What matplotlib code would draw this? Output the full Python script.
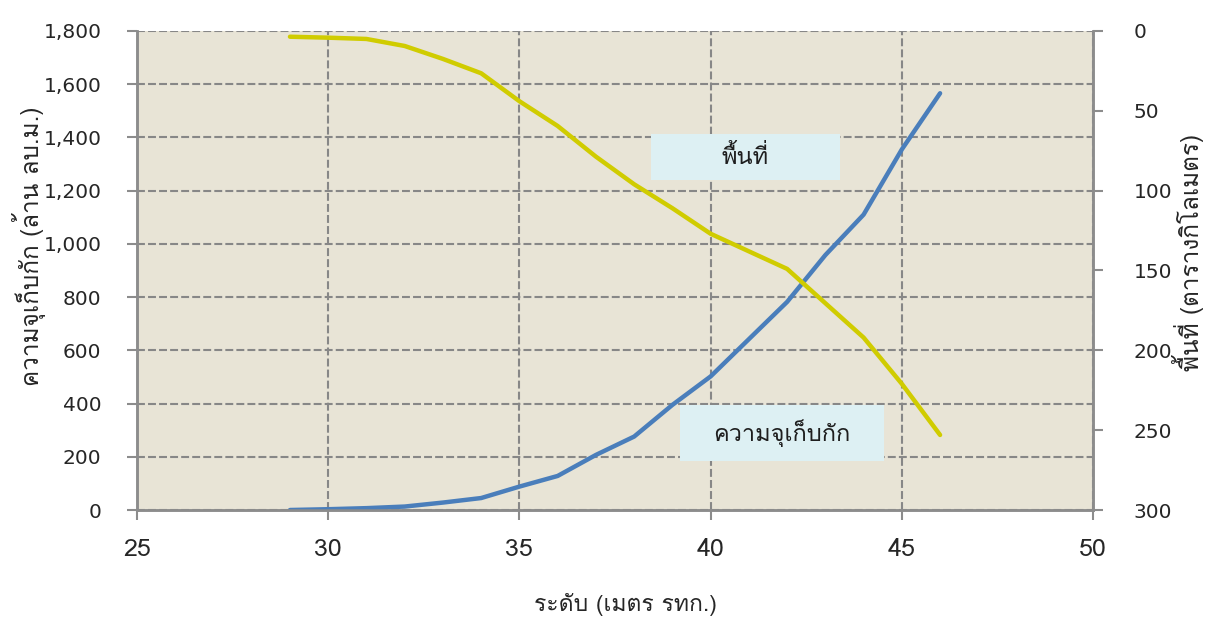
import numpy as np
import matplotlib
matplotlib.use("Agg")
import matplotlib.pyplot as plt
from matplotlib.patches import Rectangle

# ระดับน้ำ (เมตร รทก.)
level = [29, 30, 31, 32, 33, 34, 35, 36, 37, 38, 39, 40, 41, 42, 43, 44, 45, 46]
# ความจุเก็บกัก (ล้าน ลบ.ม.)
storage = [0, 3, 7, 13, 28, 45, 88, 128, 207, 276, 395, 502, 642, 782, 958, 1110, 1355, 1566]
# พื้นที่ (ตารางกิโลเมตร)
area = [3.6, 4.2, 5, 9.4, 17.5, 26.5, 44, 59.5, 78.7, 96, 111, 127, 138, 149, 170.5, 192, 221, 253]

left_ticks = [0, 200, 400, 600, 800, 1000, 1200, 1400, 1600, 1800]
right_ticks = [0, 50, 100, 150, 200, 250, 300]
x_ticks = [25, 30, 35, 40, 45, 50]

# Loma วางวรรณยุกต์ซ้อนสระบนได้ถูกต้องโดยไม่ต้อง shaping
thai = ["Loma", "DejaVu Sans"]

fig = plt.figure(figsize=(12.05, 6.17), dpi=100)
ax = fig.add_axes([0.1137, 0.1734, 0.7934, 0.7764])
ax.set_facecolor("#e8e4d6")

ax.plot(level, storage, color="#4a7ebb", lw=3.2, solid_capstyle="round", zorder=3)
ax.set_xlim(25, 50)
ax.set_ylim(0, 1800)
ax.set_xticks(x_ticks)
ax.set_yticks(left_ticks)
ax.set_yticklabels(["{:,}".format(v) for v in left_ticks], fontsize=14.5, color="#262626")
ax.set_xticklabels([str(v) for v in x_ticks], family=thai, fontsize=18, color="#262626")
ax.grid(True, color="#878787", ls=(0, (3.8, 1.5)), lw=1.5)
ax.set_axisbelow(True)

ax2 = ax.twinx()
ax2.plot(level, area, color="#d0cc00", lw=3.2, solid_capstyle="round", zorder=3)
ax2.set_ylim(300, 0)
ax2.set_yticks(right_ticks)
ax2.set_yticklabels([str(v) for v in right_ticks], fontsize=14.5, color="#262626")

for a in (ax, ax2):
    a.spines["top"].set_visible(False)
    for s in ("left", "right", "bottom"):
        a.spines[s].set_color("#8c8c8c")
        a.spines[s].set_linewidth(1.8)
    a.tick_params(axis="both", direction="out", length=7, width=1.5, color="#8c8c8c")
ax.tick_params(axis="y", pad=18.5)
ax.tick_params(axis="x", pad=13)
ax2.tick_params(axis="y", pad=22)

ax.set_xlabel("ระดับ (เมตร รทก.)", family=thai, fontsize=16.5, color="#262626",
              va="center", ha="center")
ax.xaxis.set_label_coords(0.511, -0.198)
ax.set_ylabel("ความจุเก็บกัก (ล้าน ลบ.ม.)", family=thai, fontsize=17.5, color="#262626",
              va="center", ha="center")
ax.yaxis.set_label_coords(-0.113, 0.551)
ax2.set_ylabel("พื้นที่ (ตารางกิโลเมตร)", family=thai, fontsize=17.5, color="#262626",
               va="center", ha="center")
ax2.yaxis.set_label_coords(1.0994, 0.5376)

# ป้ายชื่อเส้น
for (x0, y0, w, h), txt in [((0.5377, 0.689, 0.1977, 0.096), "พื้นที่"),
                            ((0.568, 0.102, 0.213, 0.117), "ความจุเก็บกัก")]:
    ax2.add_patch(Rectangle((x0, y0), w, h, transform=ax.transAxes,
                            facecolor="#ddf0f3", edgecolor="none", zorder=4))
    ax2.text(x0 + w / 2, y0 + h / 2, txt, transform=ax.transAxes, ha="center",
             va="center", family=thai, fontsize=17, color="#1e1e1e", zorder=5)

fig.savefig("out.png", dpi=100)
